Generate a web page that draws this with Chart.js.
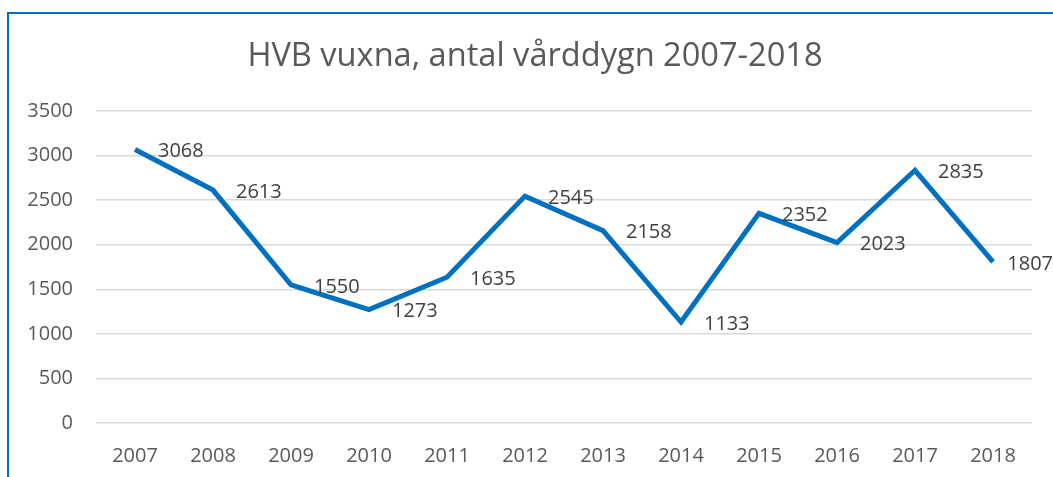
<!DOCTYPE html>
<html lang="sv">
    <head>
        <meta charset="utf-8"/>
        <title>HVB vuxna, antal vårddygn 2007-2018</title>
        <script src="https://cdn.jsdelivr.net/npm/chart.js"></script>
        <style type="text/css">
            html, body {
                margin: 0;
                padding: 0;
                background: #ffffff;
            }
            #wrap {
                width: 1053px;
                height: 477px;
            }
        </style>
    </head>
    <body>
        <div id="wrap">
            <canvas id="myChart" width="1053" height="477"></canvas>
        </div>

        <script>
            // data
            var years = ['2007', '2008', '2009', '2010', '2011', '2012', '2013', '2014', '2015', '2016', '2017', '2018'];
            var vardDygn = [3068, 2613, 1550, 1273, 1635, 2545, 2158, 1133, 2352, 2023, 2835, 1807];
            var yTicks = [0, 500, 1000, 1500, 2000, 2500, 3000, 3500];
            var chartTitle = 'HVB vuxna, antal vårddygn 2007-2018';

            var fontName = "'Open Sans', 'Liberation Sans', sans-serif";

            // blue frame along top and left edge, plus the title
            const framePlugin = {
                id: 'frame',
                beforeDraw: function(chart) {
                    var ctx = chart.ctx;
                    ctx.save();
                    ctx.strokeStyle = '#0070C0';
                    ctx.lineWidth = 2;
                    ctx.beginPath();
                    ctx.moveTo(8, 477);
                    ctx.lineTo(8, 13);
                    ctx.lineTo(1053, 13);
                    ctx.stroke();

                    ctx.font = '32.6px ' + fontName;
                    ctx.fillStyle = '#595959';
                    ctx.textAlign = 'center';
                    ctx.textBaseline = 'middle';
                    ctx.fillText(chartTitle, 535, 57);
                    ctx.restore();
                }
            };

            // value labels to the right of each point (kept inside the canvas)
            const valueLabels = {
                id: 'valueLabels',
                afterDatasetsDraw: function(chart) {
                    var ctx = chart.ctx;
                    var meta = chart.getDatasetMeta(0);
                    ctx.save();
                    ctx.font = '20px ' + fontName;
                    ctx.fillStyle = '#404040';
                    ctx.textAlign = 'left';
                    ctx.textBaseline = 'middle';
                    meta.data.forEach(function(pt, i) {
                        var txt = String(vardDygn[i]);
                        var w = ctx.measureText(txt).width;
                        var x = Math.min(pt.x + 23, chart.width - w);
                        ctx.fillText(txt, x, pt.y + 2);
                    });
                    ctx.restore();
                }
            };

            const data = {
                labels: years,
                datasets: [{
                    label: 'Vårddygn',
                    data: vardDygn,
                    borderColor: '#0070C0',
                    backgroundColor: '#0070C0',
                    borderWidth: 5,
                    pointRadius: 0,
                    tension: 0,
                    fill: false
                }]
            };

            const config = {
                type: 'line',
                data: data,
                options: {
                    responsive: false,
                    animation: false,
                    layout: {
                        padding: { top: 111, right: 21, bottom: 0, left: 0 }
                    },
                    plugins: {
                        legend: { display: false },
                        tooltip: { enabled: false },
                        title: { display: false }
                    },
                    scales: {
                        x: {
                            offset: true,
                            grid: { display: false, drawTicks: false },
                            border: { display: false },
                            ticks: {
                                color: '#595959',
                                font: { family: fontName, size: 20 },
                                padding: 21,
                                maxRotation: 0
                            },
                            afterFit: function(scale) { scale.height = 54; }
                        },
                        y: {
                            min: 0,
                            max: 3500,
                            afterBuildTicks: function(scale) {
                                scale.ticks = yTicks.map(function(v) { return { value: v }; });
                            },
                            grid: { color: '#D9D9D9', lineWidth: 1.5, drawTicks: false },
                            border: { display: false },
                            ticks: {
                                color: '#595959',
                                font: { family: fontName, size: 20 },
                                padding: 23,
                                callback: function(v) { return String(v); }
                            },
                            afterFit: function(scale) { scale.width = 96; }
                        }
                    }
                },
                plugins: [framePlugin, valueLabels]
            };

            const myChart = new Chart(
                document.getElementById('myChart'),
                config
            );
        </script>
    </body>
</html>
